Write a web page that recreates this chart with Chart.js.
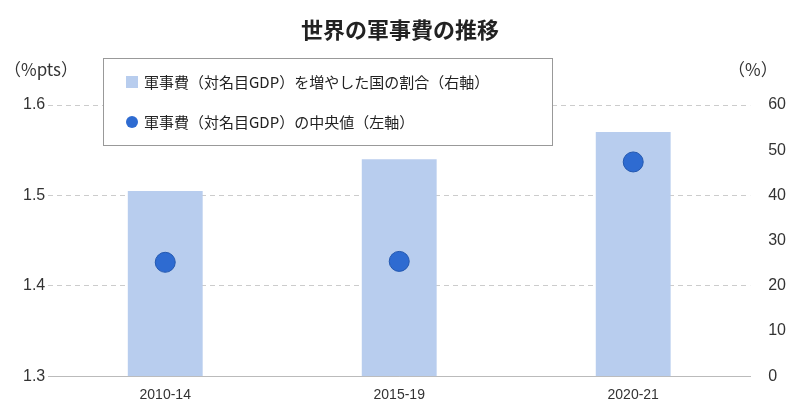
<!DOCTYPE html><html><head><meta charset="utf-8">
<script src="https://cdn.jsdelivr.net/npm/chart.js@4/dist/chart.umd.min.js"></script>
<style>body{margin:0;background:#fff;font-family:"Noto Sans CJK JP",sans-serif}
#w{position:relative;width:800px;height:420px}
.t{position:absolute;color:#333;font-size:17px}
#leg{position:absolute;left:103px;top:58px;width:450px;height:88px;border:1px solid #999;background:#fff;box-sizing:border-box;font-size:15px;color:#222}
.r{position:absolute;left:22px;display:flex;align-items:center}
</style></head><body><div id="w"><canvas id="c" width="800" height="420"></canvas>
<div class="t" style="left:0;width:800px;top:12px;text-align:center;font-size:22px;font-weight:bold;color:#222">世界の軍事費の推移</div>
<div class="t" style="left:4px;top:56px">（%pts）</div>
<div class="t" style="left:728px;top:56px">（%）</div>
<div id="leg"><div class="r" style="top:12px"><span style="display:inline-block;width:12px;height:12px;background:#b8cdee;margin-right:6px"></span>軍事費（対名目GDP）を増やした国の割合（右軸）</div>
<div class="r" style="top:52px"><span style="display:inline-block;width:12px;height:12px;border-radius:50%;background:#2e6bd1;margin-right:6px"></span>軍事費（対名目GDP）の中央値（左軸）</div></div>
</div>
<script>
const categories=["2010-14","2015-19","2020-21"];
const shareIncreased=[41,48,54];
const medianSpending=[1.426,1.427,1.537];
const leftTicks=[1.3,1.4,1.5,1.6];
new Chart(document.getElementById('c'),{data:{labels:categories,datasets:[
{type:'scatter',data:medianSpending,yAxisID:'y',backgroundColor:'#2e6bd1',borderColor:'#2358b0',borderWidth:1,pointRadius:10,order:0},
{type:'bar',data:shareIncreased,yAxisID:'y1',backgroundColor:'#b8cdee',barPercentage:0.32,categoryPercentage:1,order:1}]},
options:{responsive:false,animation:false,layout:{padding:{top:105,bottom:13,left:20,right:4}},
plugins:{legend:{display:false},tooltip:{enabled:false}},
scales:{x:{type:'category',offset:true,grid:{display:false},border:{color:'#bbb'},ticks:{color:'#333',font:{size:14}}},
y:{position:'left',min:1.3,max:1.6,afterBuildTicks:a=>{a.ticks=leftTicks.map(v=>({value:v}))},ticks:{color:'#333',font:{size:16},callback:v=>v.toFixed(1)},grid:{color:'#ccc',tickLength:0,drawTicks:false},border:{display:false,dash:[5,4]}},
y1:{position:'right',min:0,max:60,ticks:{stepSize:10,color:'#333',font:{size:16},padding:10},grid:{display:false},border:{display:false}}}}});
</script></body></html>
